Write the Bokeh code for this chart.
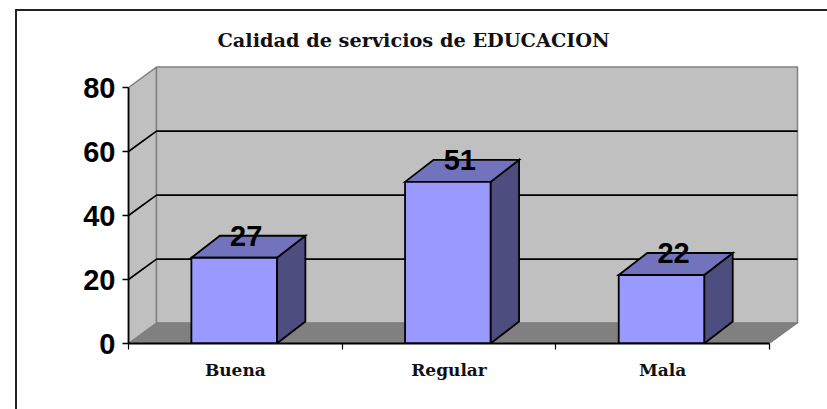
from bokeh.plotting import figure
from bokeh.embed import file_html
from bokeh.resources import INLINE
from bokeh.models import LinearAxis, FixedTicker, Range1d, Title, InlineStyleSheet
from bokeh.core.properties import value

# --- data ---
title_text = "Calidad de servicios de EDUCACION"
categories = ["Buena", "Regular", "Mala"]
labels = ["27", "51", "22"]
bar_heights = [26.8, 50.5, 21.4]
y_ticks = [0, 20, 40, 60, 80]
y_grid = [20, 40, 60]

# --- geometry ---
PX_X = 213.67      # px per category
PX_Y = 3.2         # px per value unit
WALL_DX, WALL_DY = 28 / PX_X, 20.4 / PX_Y
BAR_DX, BAR_DY = 28.5 / PX_X, 22 / PX_Y
BAR_W = 85.5 / PX_X
BAR_SHIFT = -1.2 / PX_X
n = len(categories)
ymax = y_ticks[-1]

FRAME_W, FRAME_H = 672, 283
p = figure(width=827, height=409, output_backend="svg", toolbar_location=None,
           x_axis_type=None, y_axis_type=None,
           x_range=Range1d(0, FRAME_W / PX_X), y_range=Range1d(0, FRAME_H / PX_Y),
           frame_width=FRAME_W, frame_height=FRAME_H,
           min_border_left=128, min_border_right=27, min_border_top=60, min_border_bottom=66,
           outline_line_color=None, background_fill_color="white", border_fill_color="white")
p.xgrid.visible = False
p.ygrid.visible = False

# outer frame of the picture (open towards the window's right and bottom edges)
p.stylesheets = [InlineStyleSheet(css=":host::before{content:'';position:absolute;left:15px;top:9px;right:0;bottom:0;"
                                      "border-left:2px solid #222;border-top:2px solid #222;"
                                      "pointer-events:none;z-index:10}")]

# side wall, back wall, floor
p.patch([0, WALL_DX, WALL_DX, 0], [0, WALL_DY, ymax + WALL_DY, ymax],
        fill_color="#C0C0C0", line_color="#808080", line_width=1.5)
p.patch([WALL_DX, n + WALL_DX, n + WALL_DX, WALL_DX],
        [WALL_DY, WALL_DY, ymax + WALL_DY, ymax + WALL_DY],
        fill_color="#C0C0C0", line_color="#808080", line_width=1.5)
p.patch([0, n, n + WALL_DX, WALL_DX], [0, 0, WALL_DY, WALL_DY],
        fill_color="#808080", line_color="#808080", line_width=1)

# gridlines over the walls
for v in y_grid:
    p.line([0, WALL_DX, n + WALL_DX], [v, v + WALL_DY, v + WALL_DY], line_color="black", line_width=1.7)

# bars
edge = dict(line_color="black", line_width=1.8, line_join="miter")
for i, h in enumerate(bar_heights):
    x0 = i + 0.5 - BAR_W / 2 + BAR_SHIFT
    x1 = x0 + BAR_W
    p.patch([x1, x1 + BAR_DX, x1 + BAR_DX, x1], [0, BAR_DY, h + BAR_DY, h], fill_color="#4D4D80", **edge)
    p.patch([x0, x0 + BAR_DX, x1 + BAR_DX, x1], [h, h + BAR_DY, h + BAR_DY, h], fill_color="#7373BD", **edge)
    p.patch([x0, x1, x1, x0], [0, 0, h, h], fill_color="#9999FF", **edge)

# data labels
p.text([i + 0.5 + BAR_DX * 0.38 for i in range(n)],
       [h + BAR_DY / 2 + 3.5 for h in bar_heights],
       text=labels, text_align="center", text_baseline="middle",
       text_font=value("Liberation Sans"), text_font_style="bold", text_font_size="29px", text_color="black")

# axes
yaxis = LinearAxis(ticker=FixedTicker(ticks=y_ticks), bounds=(0, ymax))
yaxis.axis_line_color = "black"
yaxis.axis_line_width = 1.8
yaxis.major_tick_line_color = "black"
yaxis.major_tick_line_width = 1.5
yaxis.major_tick_in = 0
yaxis.major_tick_out = 6
yaxis.minor_tick_line_color = None
yaxis.major_label_standoff = 7
yaxis.major_label_text_font = "Liberation Sans"
yaxis.major_label_text_font_style = "bold"
yaxis.major_label_text_font_size = "29px"
yaxis.major_label_text_color = "black"
p.add_layout(yaxis, "left")

xaxis = LinearAxis(ticker=FixedTicker(ticks=[i + 0.5 for i in range(n)], minor_ticks=list(range(n + 1))),
                   bounds=(0, n))
xaxis.major_label_overrides = {i + 0.5: c for i, c in enumerate(categories)}
xaxis.axis_line_color = "black"
xaxis.axis_line_width = 1.8
xaxis.major_tick_line_color = None
xaxis.minor_tick_line_color = "black"
xaxis.minor_tick_line_width = 1.2
xaxis.minor_tick_in = 0
xaxis.minor_tick_out = 6
xaxis.major_label_standoff = 10
xaxis.major_label_text_font = "DejaVu Serif"
xaxis.major_label_text_font_style = "bold"
xaxis.major_label_text_font_size = "17px"
xaxis.major_label_text_color = "#111111"
p.add_layout(xaxis, "below")

# title
t = Title(text=title_text, align="left", offset=89, text_font="DejaVu Serif",
          text_font_style="bold", text_font_size="19.3px", text_color="#111111", standoff=17)
p.add_layout(t, "above")

open("out.html", "w").write(file_html(p, INLINE))
